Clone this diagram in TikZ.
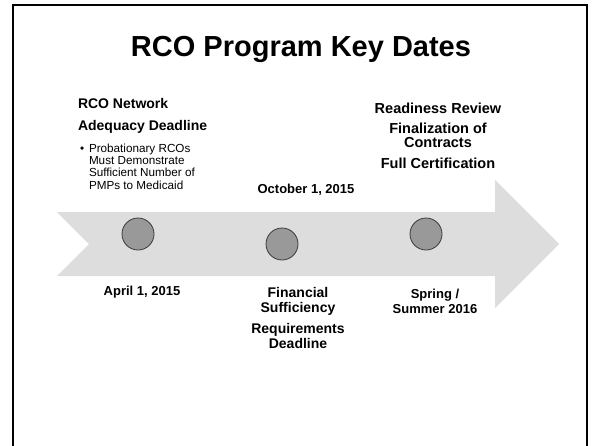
\documentclass[tikz,border=0pt]{standalone}
\usepackage{fontspec}
\setmainfont{Liberation Sans}
\definecolor{bandgray}{HTML}{DDDDDD}
\definecolor{dotgray}{HTML}{999999}
\definecolor{dotline}{HTML}{3A3A3A}
\begin{document}
\begin{tikzpicture}[x=1pt,y=-1pt,every node/.style={inner sep=0pt,outer sep=0pt},
  dot/.style={circle,draw=dotline,fill=dotgray,line width=0.8pt,minimum size=32pt},
  hdr/.style={font=\fontsize{14}{22}\selectfont\bfseries},
  blk/.style={font=\fontsize{14.5}{14}\selectfont\bfseries,align=center},
  date/.style={font=\fontsize{13}{15}\selectfont\bfseries,align=center},
  note/.style={font=\fontsize{11.7}{12.3}\selectfont,align=left}]
\useasboundingbox (0,0) rectangle (602,445);
% Frame and title
\draw[line width=2pt] (13,447) -- (13,5) -- (587,5) -- (587,447);
\draw (301,56) node(title)[anchor=base,font=\fontsize{29}{34}\selectfont\bfseries] {RCO Program Key Dates};
% Timeline band
\fill[bandgray] (57,212) -- (495,212) -- (495,180) -- (559,244) -- (495,308) -- (495,276) -- (57,276) -- (89,244) -- cycle;
\draw (138,234) node(d1)[dot] {} (282,244) node(d2)[dot] {} (426,234) node(d3)[dot] {};
% Set left (base anchor = last line)
\draw (78,130) node(net)[hdr,anchor=base west,align=left] {RCO Network\\Adequacy Deadline};
\draw (80,152) node(bul)[note,anchor=base west] {\textbullet} (89,189) node(pmp)[note,anchor=base west] {Probationary RCOs\\Must Demonstrate\\Sufficient Number of\\PMPs to Medicaid};
\draw (142,295) node(apr)[date,anchor=base] {April 1, 2015};
% Set middle
\draw (306,193) node(oct)[date,anchor=base] {October 1, 2015};
\draw (298,348) node(fin)[font=\fontsize{14}{15}\selectfont\bfseries,align=center,anchor=base] {Financial\\Sufficiency\\[6pt]Requirements\\Deadline};
% Set right
\draw (438,168) node(rdy)[blk,anchor=base] {Readiness Review\\[6pt]Finalization of\\Contracts\\[7pt]Full Certification};
\draw (435,313) node(spr)[date,anchor=base] {Spring /\\Summer 2016};
\end{tikzpicture}
\end{document}
